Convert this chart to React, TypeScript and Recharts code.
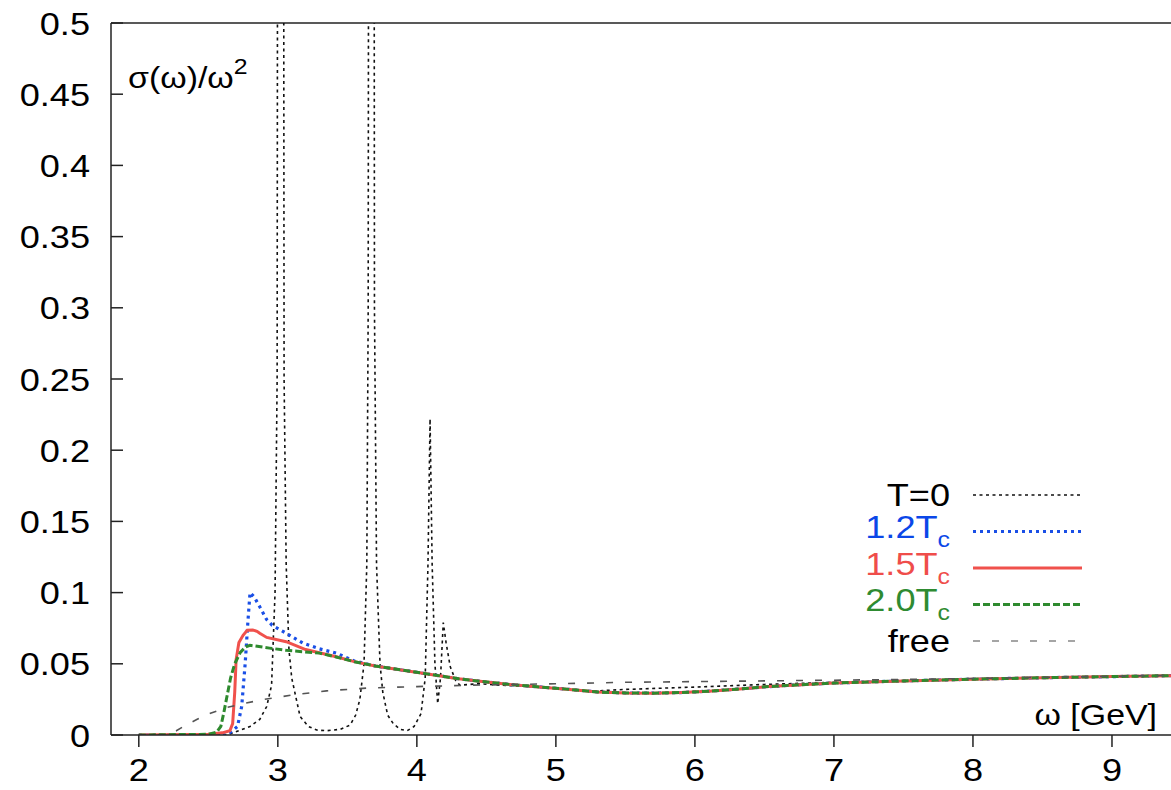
import { LineChart, Line, XAxis, YAxis, ReferenceLine } from 'recharts';

// omega [GeV], sigma(omega)/omega^2
const t0Curve: [number, number][] = [
  [2.0, 0], [2.55, 0], [2.65, 0.0005], [2.72, 0.003], [2.8, 0.006], [2.87, 0.011],
  [2.92, 0.02], [2.955, 0.035], [2.98, 0.1], [2.995, 0.25], [3.02, 3.0], [3.045, 0.25],
  [3.06, 0.12], [3.08, 0.06], [3.1, 0.04], [3.16, 0.013], [3.22, 0.006], [3.28, 0.0035],
  [3.35, 0.003], [3.45, 0.004], [3.52, 0.007], [3.56, 0.014], [3.59, 0.025], [3.62, 0.05],
  [3.64, 0.12], [3.65, 0.3], [3.675, 3.0], [3.695, 0.3], [3.71, 0.12], [3.735, 0.05],
  [3.755, 0.03], [3.79, 0.014], [3.83, 0.008], [3.88, 0.004], [3.93, 0.003], [3.98, 0.006],
  [4.03, 0.015], [4.06, 0.04], [4.08, 0.12], [4.095, 0.222], [4.11, 0.12], [4.13, 0.05],
  [4.15, 0.022], [4.17, 0.04], [4.19, 0.079], [4.21, 0.065], [4.24, 0.048], [4.28, 0.038],
  [4.31, 0.035], [4.45, 0.036], [4.6, 0.035], [4.8, 0.034], [5.0, 0.033], [5.2, 0.031],
  [5.3, 0.031], [5.5, 0.032], [5.8, 0.033], [6.1, 0.034], [6.5, 0.0355], [7.0, 0.037],
  [7.5, 0.038], [8.0, 0.0395], [8.5, 0.0403], [9.0, 0.041], [9.5, 0.042],
];

const tc12Head: [number, number][] = [
  [2.0, 0], [2.62, 0], [2.66, 0.002], [2.71, 0.006], [2.74, 0.02], [2.765, 0.05],
  [2.785, 0.08], [2.8, 0.1], [2.83, 0.097], [2.87, 0.09], [2.92, 0.081], [2.96, 0.077],
  [3.06, 0.0715], [3.18, 0.0645], [3.3, 0.0605], [3.42, 0.0575], [3.55, 0.052],
];

const tc15Head: [number, number][] = [
  [2.0, 0], [2.5, 0.0005], [2.6, 0.0015], [2.655, 0.003], [2.675, 0.008], [2.69, 0.03],
  [2.7, 0.053], [2.72, 0.065], [2.75, 0.07], [2.78, 0.0735], [2.82, 0.0737], [2.85, 0.0728],
  [2.87, 0.0714], [2.92, 0.0685], [3.06, 0.0655], [3.2, 0.06], [3.42, 0.055], [3.55, 0.0515],
];

const tc20Head: [number, number][] = [
  [2.0, 0], [2.5, 0.0005], [2.56, 0.002], [2.59, 0.006], [2.61, 0.015], [2.63, 0.025],
  [2.66, 0.04], [2.69, 0.05], [2.73, 0.058], [2.77, 0.062], [2.8, 0.063], [2.94, 0.061],
  [3.06, 0.0595], [3.3, 0.0575], [3.42, 0.0548], [3.55, 0.0515],
];

// high-omega part shared by the three finite-temperature curves
const continuumTail: [number, number][] = [
  [3.7, 0.0485], [3.9, 0.0455], [4.1, 0.0425], [4.3, 0.0395], [4.5, 0.0372], [4.7, 0.0352],
  [4.9, 0.0336], [5.1, 0.032], [5.3, 0.0302], [5.5, 0.0295], [5.7, 0.0294], [5.9, 0.0298],
  [6.1, 0.0308], [6.3, 0.0322], [6.5, 0.0338], [6.7, 0.035], [7.0, 0.0365], [7.5, 0.038],
  [8.0, 0.0392], [8.5, 0.0402], [9.0, 0.041], [9.5, 0.0418],
];

const freeCurve: [number, number][] = [
  [2.0, 0], [2.2, 0], [2.27, 0.003], [2.34, 0.007], [2.42, 0.011], [2.51, 0.015],
  [2.62, 0.019], [2.75, 0.022], [2.9, 0.025], [3.1, 0.028], [3.35, 0.031], [3.65, 0.033],
  [4.0, 0.034], [4.4, 0.035], [5.0, 0.036], [5.5, 0.037], [6.0, 0.0375], [6.5, 0.038],
  [7.0, 0.0385], [7.5, 0.039], [8.0, 0.0397], [8.5, 0.0405], [9.0, 0.0412], [9.5, 0.042],
];

const xTicks = [2, 3, 4, 5, 6, 7, 8, 9];
const yTicks = [0, 0.05, 0.1, 0.15, 0.2, 0.25, 0.3, 0.35, 0.4, 0.45, 0.5];

const toPoints = (pts: [number, number][]) => pts.map(([w, s]) => ({ w, s }));

const series = [
  { key: 't0', main: 'T=0', sub: '', text: '#000', stroke: '#111', width: 1.6, dash: '3 3.5', data: toPoints(t0Curve) },
  { key: 'tc12', main: '1.2T', sub: 'c', text: '#0b47e8', stroke: '#1a4fe6', width: 3.2, dash: '3 4', data: toPoints([...tc12Head, ...continuumTail]) },
  { key: 'tc15', main: '1.5T', sub: 'c', text: '#ef4d4a', stroke: '#f0514c', width: 3, dash: undefined, data: toPoints([...tc15Head, ...continuumTail]) },
  { key: 'tc20', main: '2.0T', sub: 'c', text: '#2e8b31', stroke: '#2e8a2e', width: 3, dash: '7 3', data: toPoints([...tc20Head, ...continuumTail]) },
  { key: 'free', main: 'free', sub: '', text: '#000', stroke: '#555', width: 1.6, dash: '7 12', data: toPoints(freeCurve) },
];

const FONT = '"Liberation Sans", Arial, Helvetica, sans-serif';
const STRETCH = 1.13;

const XTick = ({ x, y, payload }: any) => (
  <text
    transform={`translate(${x},${y + 34}) scale(${STRETCH},1)`}
    textAnchor="middle" fontFamily={FONT} fontSize={32} fill="#000"
  >
    {payload.value}
  </text>
);

const YTick = ({ x, y, payload }: any) => (
  <g>
    <line x1={x} x2={x + 12} y1={y} y2={y} stroke="#222" strokeWidth={1.5} />
    <text
      transform={`translate(${x - 21},${y + 11.5}) scale(${STRETCH},1)`}
      textAnchor="end" fontFamily={FONT} fontSize={32} fill="#000"
    >
      {String(payload.value)}
    </text>
  </g>
);

export default function App() {
  return (
    <div style={{ position: 'absolute', left: 0, top: 0, width: 1171, height: 790, background: '#fff' }}>
      <LineChart width={1171} height={790} margin={{ top: 23, right: 0, bottom: 0, left: 0 }}>
        <XAxis
          type="number" dataKey="w" domain={[1.8, 9.4245]} allowDataOverflow
          ticks={xTicks} height={55} tickSize={12} tickMargin={0}
          tickLine={{ stroke: '#222', strokeWidth: 1.5 }}
          axisLine={{ stroke: '#222', strokeWidth: 1.5 }}
          tick={<XTick />}
        />
        <YAxis
          type="number" dataKey="s" domain={[0, 0.5]} allowDataOverflow
          ticks={yTicks} width={111} tickSize={0} tickMargin={0} tickLine={false}
          axisLine={{ stroke: '#222', strokeWidth: 1.5 }}
          tick={<YTick />}
        />
        <ReferenceLine y={0.5} stroke="#222" strokeWidth={1.5} />
        {series.map(s => (
          <Line
            key={s.key} data={s.data} dataKey="s" type="linear"
            stroke={s.stroke} strokeWidth={s.width} strokeDasharray={s.dash}
            dot={false} activeDot={false} isAnimationActive={false}
          />
        ))}
      </LineChart>

      <svg width={1171} height={790} style={{ position: 'absolute', left: 0, top: 0, pointerEvents: 'none' }}>
        <text transform={`translate(128,88) scale(${STRETCH},1)`} fontFamily={FONT} fontSize={30} fill="#000">
          σ(ω)/ω<tspan fontSize={22} dy={-14}>2</tspan>
        </text>
        <text transform={`translate(1157,725) scale(${STRETCH},1)`} textAnchor="end" fontFamily={FONT} fontSize={30} fill="#000">
          ω [GeV]
        </text>
        {series.map((s, i) => {
          const ly = 495 + i * 36.5;
          return (
            <g key={s.key}>
              <text
                transform={`translate(950,${ly + (s.sub ? 6.5 : 10.5)}) scale(${STRETCH},1)`}
                textAnchor="end" fontFamily={FONT} fontSize={32} fill={s.text}
              >
                {s.main}
                {s.sub && <tspan fontSize={22} dy={9}>{s.sub}</tspan>}
              </text>
              <line
                x1={973} x2={1082} y1={ly} y2={ly}
                stroke={s.key === 'free' ? '#888' : s.stroke}
                strokeWidth={s.width} strokeDasharray={s.dash}
              />
            </g>
          );
        })}
      </svg>
    </div>
  );
}
